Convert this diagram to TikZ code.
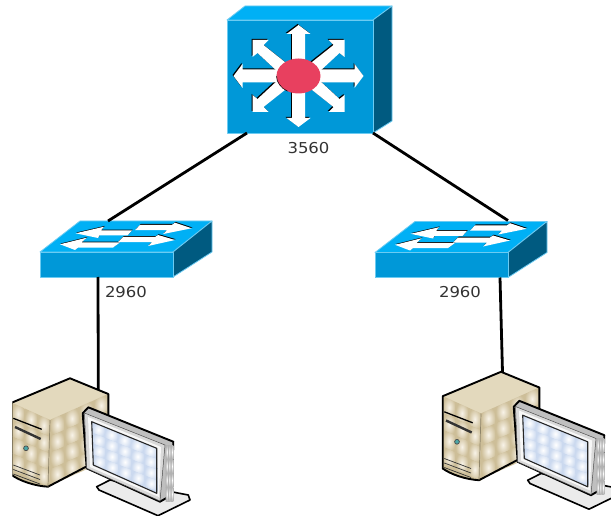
\documentclass[tikz,border=0pt]{standalone}
\usepackage{fontspec}
\setmainfont{DejaVu Sans}
\definecolor{frontblue}{HTML}{0098D8}
\definecolor{topblue}{HTML}{00B0F5}
\definecolor{sideblue}{HTML}{005A80}
\definecolor{edgeblue}{HTML}{6CCBF2}
\definecolor{corered}{HTML}{E8405F}
\definecolor{tantop}{HTML}{E3D9BD}
\definecolor{tanlight}{HTML}{F8F3E8}
\definecolor{tandark}{HTML}{CDBE98}
\definecolor{screenblue}{HTML}{CBD9EF}
\definecolor{labelgrey}{HTML}{333333}

\newcommand{\cellfield}[9]{
    \begin{scope}[cm={#2,#3,#4,#5,#1},x=1pt,y=1pt]
        \foreach \i in {0,...,#6}
            \foreach \j in {0,...,#7}
                \shade[inner color=#8,outer color=#9] (\i,\j) rectangle +(1,1);
    \end{scope}
}

\tikzset{
    link/.style={draw=black,line width=2.8pt},
    numlabel/.style={inner sep=0pt,text=labelgrey,font=\fontsize{15}{18}\selectfont,xscale=1.1},
    facefront/.style={fill=frontblue,draw=edgeblue,line width=.8pt,line join=round},
    facetop/.style={fill=topblue,draw=edgeblue,line width=.8pt,line join=round},
    faceside/.style={fill=sideblue,draw=edgeblue,line width=.8pt,line join=round},
    heavyline/.style={draw=black,line width=1.9pt,line join=round},
    coreswitch/.pic={
        \coordinate (-sw) at (247,133);
        \coordinate (-se) at (373,133);
        \path[facetop] (227,20) -- (245,6) -- (392,6) -- (373,20) -- cycle;
        \path[faceside] (373,20) -- (392,6) -- (392,121) -- (373,133) -- cycle;
        \path[facefront] (227,20) rectangle (373,133);
        \foreach \col/\off in {black/-1,white/0}{
            \begin{scope}[shift={(298.5+\off,76+\off)}]
                \foreach \ang/\len in {0/65,180/65,90/51,270/51}
                    \fill[\col,rotate=\ang] (0,-6.5) -- (\len-9,-6.5) -- (\len-9,-12) -- (\len,0)
                        -- (\len-9,12) -- (\len-9,6.5) -- (0,6.5) -- cycle;
                \foreach \sx/\sy in {1/1,1/-1,-1/1,-1/-1}
                    \fill[\col,xscale=\sx,yscale=\sy] (46,-36) -- (30,-36) -- (35,-31) -- (6,-8)
                        -- (14,2) -- (41,-23) -- (46,-19) -- cycle;
            \end{scope}
        }
        \fill[corered] (298.5,76) ellipse [x radius=22,y radius=17.5];
        \draw[black,line width=.5pt] (276.5,76) arc [start angle=180,end angle=120,x radius=22,y radius=17.5];
    },
    accessswitch/.pic={
        \coordinate (-up) at (108,221);
        \coordinate (-upb) at (173,220);
        \coordinate (-downa) at (98,277);
        \coordinate (-downb) at (165,277);
        \path[facetop] (40,252) -- (80,221) -- (212,221) -- (173,252) -- cycle;
        \path[faceside] (173,252) -- (212,221) -- (212,252) -- (173,277) -- cycle;
        \path[facefront] (40,252) rectangle (173,277);
        \foreach \col/\dx/\dy in {black/.7/-.8,white/0/0}{
            \begin{scope}[shift={(\dx,\dy)}]
                \fill[\col] (75.7,233.3) -- (104,226.7) -- (101,230.4) -- (132,230.4) -- (127.5,235.4)
                    -- (99.5,235.4) -- (98,238) -- cycle;
                \fill[\col] (191.7,228.3) -- (175,222.7) -- (172,224.8) -- (140,224.8) -- (135,230.2)
                    -- (167,230.2) -- (163,234) -- cycle;
                \fill[\col] (60,244.3) -- (86.7,237.7) -- (81.5,242.4) -- (120,242.4) -- (113,247.6)
                    -- (78,247.6) -- (75,250) -- cycle;
                \fill[\col] (175,240) -- (158,235) -- (155,237) -- (123,237) -- (118,242)
                    -- (152,242) -- (148,246) -- cycle;
            \end{scope}
        }
    },
    servericon/.pic={
        \coordinate (-up) at (71.5,378.8);
        \coordinate (-shoulder) at (98.3,390);
        \path[fill=tantop] (11.7,402.7) -- (70,378.3) -- (108.3,394) -- (50,420) -- cycle;
        \path[fill=tandark] (11.7,402.7) -- (50,420) -- (108.3,394) -- (108.3,455) -- (48,486.7)
            .. controls (35,486) and (20,481) .. (11.7,475) -- cycle;
        \cellfield{(11.7,402.7)}{12.8}{-5.8}{0}{-16.8}{2}{3}{tanlight}{tandark}
        \cellfield{(50,420)}{14.6}{6.5}{0}{-16.4}{3}{3}{tanlight}{tandark}
        \draw[heavyline,fill=none] (11.7,402.7) -- (70,378.3) -- (108.3,394) -- (108.3,455)
            -- (48,486.7) .. controls (35,486) and (20,481) .. (11.7,475) -- cycle;
        \draw[line width=.7pt,draw=tandark!70!black] (50,420) -- (48,486.7);
        \draw[black,line width=1.3pt] (13.3,418.3) -- (41.7,429.3);
        \draw[black!80,line width=2.4pt] (15,427) -- (40.7,439);
        \fill[teal!70!white,draw=black!70,line width=.7pt] (26,448.3) circle (2.4);
        \foreach \yl in {465,469.5,474}
            \draw[black!80,line width=.7pt] (13.3,\yl) -- (40,\yl+10);
        \path[fill=black!8,draw=black,line width=1.6pt,line join=round] (96.7,486.7) -- (110,480) -- (188.3,495)
            -- (190,500) -- (158,515.7) -- (99,490) -- cycle;
        \path[fill=black!25,draw=black,line width=1.9pt,line join=round] (82.7,413.3) -- (88.3,407.3)
            -- (173.3,441.7) -- (171.7,495) -- (160,501.7) -- (86.7,468.3) -- cycle;
        \cellfield{(165.5,445)}{2.6}{0}{0}{-14}{2}{3}{white}{black!30}
        \path[fill=black!15,draw=black!70,line width=.5pt] (84.5,413) -- (165,445) -- (160,501) -- (86.7,468.3) -- cycle;
        \path[fill=black!3] (88,417) -- (161,447) -- (159,497) -- (90,467) -- cycle;
        \fill[screenblue] (91.7,421.7) -- (156.7,448.3) -- (156.7,493.3) -- (93.3,465) -- cycle;
        \cellfield{(91.7,421.7)}{13}{-5.32}{.3}{-10.8}{4}{3}{white}{screenblue}
        \draw[black!85,line width=1.1pt,line join=round] (91.7,421.7) -- (156.7,448.3) -- (156.7,493.3) -- (93.3,465) -- cycle;
    }
}

\begin{document}
\begin{tikzpicture}[x=1pt,y=-1pt]
    \useasboundingbox (0,0) rectangle (611,516);
    \clip (0,0) rectangle (611,516);

    \pic (core) at (0,0) {coreswitch};
    \pic (swleft) at (0,0) {accessswitch};
    \pic (swright) at (335,.5) {accessswitch};
    \begin{scope}
        \clip (12.4,360) rectangle (300,516);
        \pic (pcleft) at (0,0) {servericon};
    \end{scope}
    \pic (pcright) at (431,-6.5) {servericon};

    \draw[link] (core-sw) -- (swleft-up);
    \draw[link] (core-se) -- (swright-upb);
    \draw[link] (swleft-downa) -- (pcleft-shoulder);
    \draw[link] (swright-downb) -- (pcright-up);

    \node (lblcore) at (308.5,148) [numlabel] {3560};
    \node (lblleft) at (126,292) [numlabel] {2960};
    \node (lblright) at (460,292) [numlabel] {2960};
\end{tikzpicture}
\end{document}
